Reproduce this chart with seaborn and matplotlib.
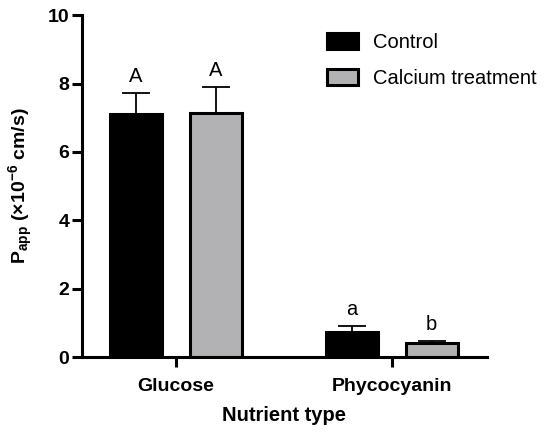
import numpy as np
import pandas as pd
import matplotlib
matplotlib.use("Agg")
import matplotlib.pyplot as plt
import seaborn as sns

nutrients = ["Glucose", "Phycocyanin"]
groups = ["Control", "Calcium treatment"]
control_mean = [7.10, 0.73]
control_err = [0.62, 0.17]
calcium_mean = [7.13, 0.41]
calcium_err = [0.77, 0.07]
letters = {"Control": ["A", "a"], "Calcium treatment": ["A", "b"]}

df = pd.DataFrame({
    "nutrient": nutrients * 2,
    "group": [groups[0]] * 2 + [groups[1]] * 2,
    "papp": control_mean + calcium_mean,
    "err": control_err + calcium_err,
})

sns.set_style("ticks")
plt.rcParams["font.family"] = ["Liberation Sans", "DejaVu Sans"]
plt.rcParams["mathtext.fontset"] = "custom"
plt.rcParams["mathtext.rm"] = "Liberation Sans"
plt.rcParams["mathtext.bf"] = "Liberation Sans:bold"
plt.rcParams["text.color"] = "black"
plt.rcParams["axes.labelcolor"] = "black"

fig = plt.figure(figsize=(5.5, 4.33), dpi=100)
ax = fig.add_axes([0.149, 0.175, 0.736, 0.79])

palette = {"Control": "black", "Calcium treatment": "#b1b2b6"}
sns.barplot(data=df, x="nutrient", y="papp", hue="group", hue_order=groups,
            palette=palette, width=0.74, gap=0.35, errorbar=None,
            edgecolor="black", linewidth=2.2, ax=ax)

for cont, g in zip(ax.containers, groups):
    sub = df[df["group"] == g]
    xs = [p.get_x() + p.get_width() / 2 for p in cont.patches]
    ys = sub["papp"].values
    es = sub["err"].values
    ax.errorbar(xs, ys, yerr=[np.zeros_like(es), es], fmt="none", ecolor="black",
                elinewidth=1.3, capsize=10, capthick=1.3, zorder=1)
    for x, y, e, t in zip(xs, ys, es, letters[g]):
        ax.annotate(t, (x, y + e), xytext=(0, 5), textcoords="offset points",
                    ha="center", va="bottom", fontsize=14.5)

ax.set_ylim(0, 10)
ax.set_xlim(-0.435, 1.44)
ax.set_yticks([0, 2, 4, 6, 8, 10])
sns.despine(ax=ax)
for s in ["left", "bottom"]:
    ax.spines[s].set_linewidth(2.2)
    ax.spines[s].set_color("black")
ax.tick_params(width=2.2, length=7, labelsize=14, colors="black", pad=2)
ax.tick_params(axis="x", pad=8)
for lab in ax.get_xticklabels() + ax.get_yticklabels():
    lab.set_fontweight("bold")

ax.set_xlabel("Nutrient type", fontsize=14.5, fontweight="bold", labelpad=8)
ax.set_ylabel(r"$\mathbf{P_{app}}$ (×10$^{\mathbf{-6}}$ cm/s)", fontsize=14,
              fontweight="bold")
ax.yaxis.set_label_coords(-0.115, 0.5)

handles, labels = ax.get_legend_handles_labels()
ax.legend(handles, labels, frameon=False, loc="upper left",
          bbox_to_anchor=(0.605, 0.948), borderaxespad=0, borderpad=0,
          fontsize=14.5, handlelength=1.55, handleheight=0.85,
          handletextpad=0.75, labelspacing=0.85)

fig.savefig("out.png", dpi=100)
